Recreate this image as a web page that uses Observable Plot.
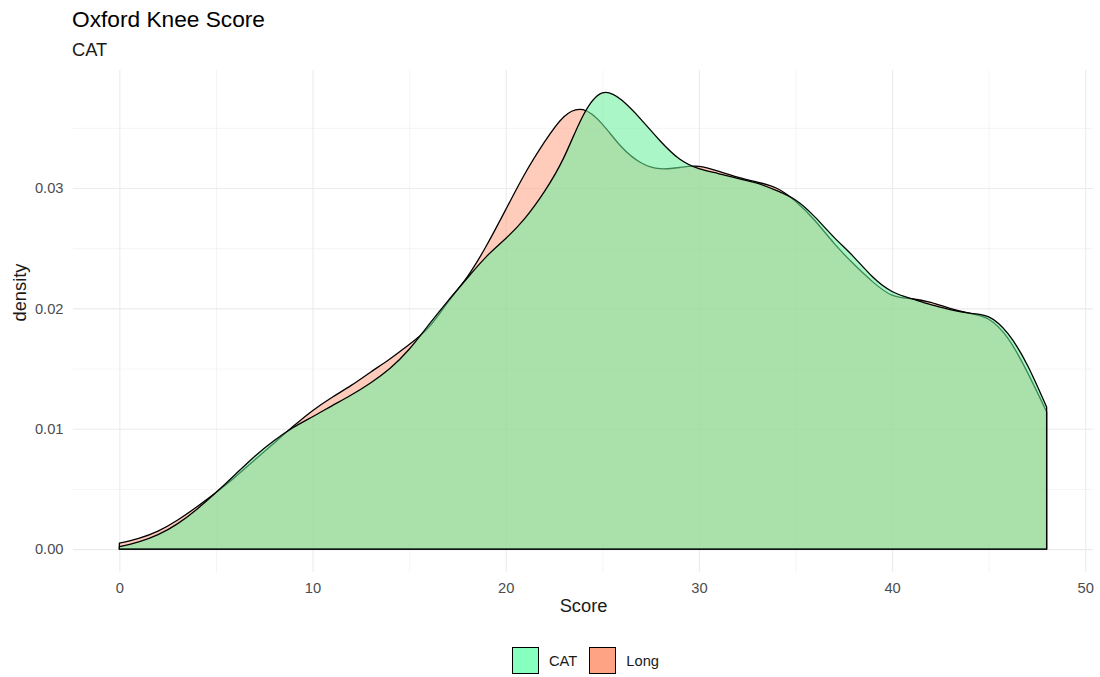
<!DOCTYPE html>
<html>
<head>
<meta charset="utf-8">
<script src="https://cdn.jsdelivr.net/npm/d3@7"></script>
<script src="https://cdn.jsdelivr.net/npm/@observablehq/plot@0.6"></script>
<style>
  html, body { margin: 0; padding: 0; background: #ffffff; }
  #wrap { position: relative; width: 1100px; height: 677px; font-family: "Liberation Sans", Arial, Helvetica, sans-serif; }
  #title { position: absolute; left: 72px; top: 8px; font-size: 22.7px; line-height: 22.7px; color: #000; white-space: nowrap; }
  #subtitle { position: absolute; left: 72px; top: 41px; font-size: 18.3px; line-height: 18.3px; color: #1a1a1a; white-space: nowrap; }
  #chart { position: absolute; left: 0; top: 62px; }
  #legend { position: absolute; left: 512px; top: 647px; display: flex; align-items: center; font-size: 14.7px; color: #1a1a1a; }
  .key { width: 25px; height: 25px; border: 1.5px solid #000; }
  .lab { margin-left: 10px; margin-right: 12px; }
</style>
</head>
<body>
<div id="wrap">
  <div id="title"></div>
  <div id="subtitle"></div>
  <div id="chart"></div>
  <div id="legend"></div>
</div>
<script>
const titleText = "Oxford Knee Score";
const subtitleText = "CAT";
const xLabel = "Score";
const yLabel = "density";
const groups = ["CAT", "Long"];
const legendColors = ["#86FFBF", "#FFA385"];

const scores = [0,1,2,3,4,5,6,7,8,9,10,11,12,13,14,15,16,17,18,19,20,21,22,23,24,25,26,27,28,29,30,31,32,33,34,35,36,37,38,39,40,41,42,43,44,45,46,47,48];
const catDensity = [0.0002,0.0006,0.0012,0.0021,0.0033,0.0047,0.0062,0.0077,0.0090,0.0101,0.0110,0.0119,0.0128,0.0138,0.0150,0.0166,0.0186,0.0206,0.0225,0.0243,0.0258,0.0275,0.0297,0.0325,0.0360,0.0379,0.0373,0.0357,0.0339,0.0324,0.0316,0.0312,0.0308,0.0304,0.0298,0.0290,0.0276,0.0259,0.0243,0.0226,0.0214,0.0208,0.0203,0.0199,0.0196,0.0193,0.0179,0.0153,0.0118];
const longDensity = [0.0005,0.0009,0.0015,0.0024,0.0035,0.0047,0.0060,0.0074,0.0088,0.0102,0.0115,0.0126,0.0136,0.0147,0.0158,0.0170,0.0184,0.0205,0.0226,0.0252,0.0282,0.0312,0.0338,0.0359,0.0365,0.0353,0.0334,0.0321,0.0316,0.0317,0.0318,0.0314,0.0309,0.0305,0.0300,0.0289,0.0273,0.0254,0.0237,0.0222,0.0211,0.0208,0.0205,0.0200,0.0196,0.0191,0.0175,0.0147,0.0114];

const xTicks = [0,10,20,30,40,50];
const xMinor = [5,15,25,35,45];
const yTicks = [0,0.01,0.02,0.03];
const yTickLabels = ["0.00","0.01","0.02","0.03"];
const yMinor = [0.005,0.015,0.025,0.035];

const catData = scores.map((s, i) => ({score: s, density: catDensity[i], group: groups[0]}));
const longData = scores.map((s, i) => ({score: s, density: longDensity[i], group: groups[1]}));

document.getElementById("title").textContent = titleText;
document.getElementById("subtitle").textContent = subtitleText;

const grid = "#ebebeb";
const chart = Plot.plot({
  width: 1100,
  height: 578,
  marginLeft: 73,
  marginRight: 7,
  marginTop: 8,
  marginBottom: 68,
  style: {fontFamily: '"Liberation Sans", Arial, Helvetica, sans-serif', fontSize: "14.7px", background: "#ffffff"},
  x: {domain: [-2.4, 50.4]},
  y: {domain: [-0.0019, 0.0398]},
  marks: [
    Plot.ruleX(xMinor, {stroke: grid, strokeWidth: 0.55}),
    Plot.ruleY(yMinor, {stroke: grid, strokeWidth: 0.55}),
    Plot.ruleX(xTicks, {stroke: grid, strokeWidth: 1.1}),
    Plot.ruleY(yTicks, {stroke: grid, strokeWidth: 1.1}),
    Plot.areaY(longData, {x: "score", y: "density", fill: "#FFA385", fillOpacity: 0.55, stroke: "#000", strokeWidth: 1.3, curve: "natural"}),
    Plot.areaY(catData, {x: "score", y: "density", fill: "#69F09B", fillOpacity: 0.57, stroke: "#000", strokeWidth: 1.3, curve: "natural"}),
    Plot.axisY(yTicks, {tickSize: 0, tickPadding: 10, label: null, fill: "#4d4d4d", fontSize: 14.7, tickFormat: d => yTickLabels[yTicks.indexOf(d)]}),
    Plot.axisX(xTicks, {tickSize: 0, tickPadding: 10, label: null, fill: "#4d4d4d", fontSize: 14.7}),
    Plot.text([xLabel], {frameAnchor: "bottom", dy: 39, text: d => d, fontSize: 18.3, fill: "#1a1a1a"}),
    Plot.text([yLabel], {frameAnchor: "left", dx: -53, rotate: -90, text: d => d, fontSize: 18.3, fill: "#1a1a1a"})
  ]
});
document.getElementById("chart").appendChild(chart);

const legend = document.getElementById("legend");
groups.forEach((g, i) => {
  const k = document.createElement("div");
  k.className = "key";
  k.style.background = legendColors[i];
  legend.appendChild(k);
  const l = document.createElement("div");
  l.className = "lab";
  l.textContent = g;
  legend.appendChild(l);
});
</script>
</body>
</html>
